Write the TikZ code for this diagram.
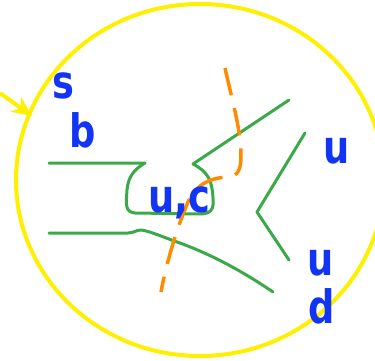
\documentclass[tikz,border=0pt]{standalone}
\usepackage{fontspec}
\setmainfont{DejaVu Sans}
\usetikzlibrary{arrows.meta}
\definecolor{ringYellow}{RGB}{255,240,0}
\definecolor{lineGreen}{RGB}{58,170,72}
\definecolor{quarkBlue}{RGB}{18,52,245}
\definecolor{cutOrange}{RGB}{255,140,0}
\newcommand{\Qk}[1]{\scalebox{0.8}[1]{\fontsize{46}{46}\selectfont\bfseries #1}}

\begin{document}
\begin{tikzpicture}[x=1pt,y=-1pt,
  quark/.style={text=quarkBlue,anchor=base,inner sep=0pt},
  gline/.style={draw=lineGreen,line width=3pt,line cap=round,line join=round},
  cut/.style={draw=cutOrange,line width=3.5pt,dash pattern=on 28pt off 13pt}]
\useasboundingbox (0,0) rectangle (375,361);
% ring and arrow
\draw[ringYellow,line width=4pt] (200,180) ellipse [x radius=184,y radius=176];
\coordinate (from) at (0,93);
\coordinate (hit) at (32,116);
\draw[ringYellow,line width=4pt,-{Stealth[length=20pt,width=18pt]}] (from) -- (hit);
% quark lines
\draw[gline] (49,163) -- (145,163) .. controls (133,170) and (128,178) .. (127,190)
  .. controls (126,205) and (125,212) .. (135,213) -- (200,214)
  .. controls (212,214) and (214,208) .. (213,198)
  .. controls (212,180) and (208,172) .. (193,164) -- (289,100);
\draw[gline] (49,233) -- (128,233) .. controls (134,233) and (136,230) .. (141,230)
  .. controls (150,231) and (165,238) .. (180,243)
  .. controls (215,256) and (245,273) .. (273,292);
\draw[gline] (305,133) -- (257,212) -- (289,260);
% cut
\draw[cut] (225,68) .. controls (232,100) and (241,130) .. (241,155)
  .. controls (241,170) and (238,176) .. (228,177)
  .. controls (205,178) and (195,188) .. (188,202)
  .. controls (178,225) and (167,260) .. (161,292);
% labels
\node[quark] (s) at (63,99) {\Qk{s}};
\node[quark] (b) at (83,147) {\Qk{b}};
\node[quark] (uc) at (179,212) {\Qk{u,c}};
\node[quark] (u1) at (337,163) {\Qk{u}};
\node[quark] (u2) at (321,275) {\Qk{u}};
\node[quark] (d) at (322,323) {\Qk{d}};
\end{tikzpicture}
\end{document}
